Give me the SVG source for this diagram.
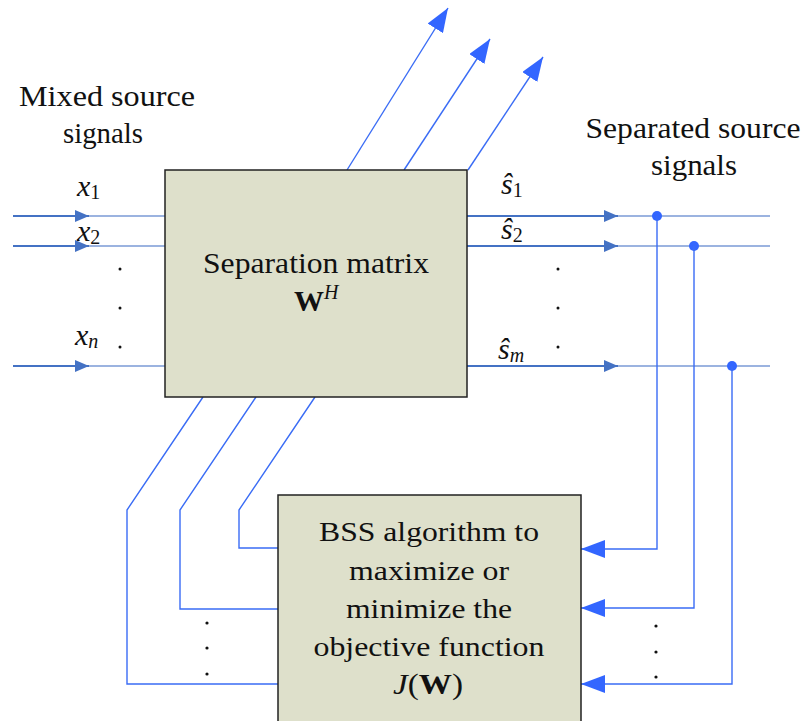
<svg xmlns="http://www.w3.org/2000/svg" width="805" height="721" viewBox="0 0 805 721">
<style>
text{font-family:"Liberation Serif","Times New Roman",serif;fill:#111;}
.sig{stroke:#4472c4;stroke-width:2;fill:none;}
.sigl{stroke:#9bb3e0;stroke-width:2;fill:none;}
.fb{stroke:#3a6cf5;stroke-width:1.4;fill:none;}
.box{fill:#dee0cb;stroke:#222;stroke-width:1.5;}
.dot{fill:#111;}
</style>
<defs>
<marker id="ah" markerUnits="userSpaceOnUse" markerWidth="14" markerHeight="12" refX="14" refY="6" orient="auto"><path d="M0,0 L14,6 L0,12 Z" fill="#4472c4"/></marker>
<marker id="ab" markerUnits="userSpaceOnUse" markerWidth="24" markerHeight="18" refX="24" refY="9" orient="auto"><path d="M0,0 L24,9 L0,18 Z" fill="#3366ff"/></marker>
</defs>

<g id="labels">
<text font-size="29" x="107" y="106" text-anchor="middle" textLength="176" lengthAdjust="spacingAndGlyphs">Mixed source</text>
<text font-size="29" x="103" y="143" text-anchor="middle" textLength="80" lengthAdjust="spacingAndGlyphs">signals</text>
<text font-size="29" x="693" y="138" text-anchor="middle" textLength="215" lengthAdjust="spacingAndGlyphs">Separated source</text>
<text font-size="29" x="694" y="175" text-anchor="middle" textLength="86" lengthAdjust="spacingAndGlyphs">signals</text>
<text font-size="30" x="77" y="196" font-style="italic">x<tspan font-style="normal" font-size="20" dy="3">1</tspan></text>
<text font-size="30" x="77" y="241" font-style="italic">x<tspan font-style="normal" font-size="20" dy="3">2</tspan></text>
<text font-size="30" x="75" y="345" font-style="italic">x<tspan font-size="20" dy="3">n</tspan></text>
<text font-size="30" x="501" y="194" font-style="italic">ŝ<tspan font-style="normal" font-size="20" dy="3">1</tspan></text>
<text font-size="30" x="501" y="239" font-style="italic">ŝ<tspan font-style="normal" font-size="20" dy="3">2</tspan></text>
<text font-size="30" x="498" y="359" font-style="italic">ŝ<tspan font-size="20" dy="3">m</tspan></text>
<circle class="dot" cx="120" cy="269" r="1.5"/>
<circle class="dot" cx="120" cy="308" r="1.5"/>
<circle class="dot" cx="120" cy="347" r="1.5"/>
<circle class="dot" cx="558" cy="269" r="1.5"/>
<circle class="dot" cx="558" cy="308" r="1.5"/>
<circle class="dot" cx="558" cy="347" r="1.5"/>
<circle class="dot" cx="207" cy="623" r="1.6"/>
<circle class="dot" cx="207" cy="648" r="1.6"/>
<circle class="dot" cx="207" cy="674" r="1.6"/>
<circle class="dot" cx="656" cy="626" r="1.6"/>
<circle class="dot" cx="656" cy="652" r="1.6"/>
<circle class="dot" cx="656" cy="677" r="1.6"/>
</g>

<g id="connectors">
<line class="sigl" x1="88" y1="216" x2="165" y2="216"/>
<line class="sigl" x1="88" y1="246" x2="165" y2="246"/>
<line class="sigl" x1="88" y1="366" x2="165" y2="366"/>
<line class="sig" x1="13" y1="216" x2="89" y2="216" marker-end="url(#ah)"/>
<line class="sig" x1="13" y1="246" x2="89" y2="246" marker-end="url(#ah)"/>
<line class="sig" x1="13" y1="366" x2="89" y2="366" marker-end="url(#ah)"/>
<line class="sigl" x1="617" y1="216" x2="770" y2="216"/>
<line class="sigl" x1="617" y1="246" x2="770" y2="246"/>
<line class="sigl" x1="617" y1="366" x2="770" y2="366"/>
<line class="sig" x1="467" y1="216" x2="618" y2="216" marker-end="url(#ah)"/>
<line class="sig" x1="467" y1="246" x2="618" y2="246" marker-end="url(#ah)"/>
<line class="sig" x1="467" y1="366" x2="618" y2="366" marker-end="url(#ah)"/>
<circle cx="657" cy="216" r="5" fill="#3366ff"/>
<circle cx="694" cy="246" r="5" fill="#3366ff"/>
<circle cx="732" cy="366" r="5" fill="#3366ff"/>
<polyline class="fb" points="657,216 657,549 581,549" marker-end="url(#ab)"/>
<polyline class="fb" points="694,246 694,608 581,608" marker-end="url(#ab)"/>
<polyline class="fb" points="732,366 732,684 581,684" marker-end="url(#ab)"/>
<line class="fb" x1="347" y1="170" x2="448" y2="8" marker-end="url(#ab)"/>
<line class="fb" x1="404" y1="170" x2="490" y2="39" marker-end="url(#ab)"/>
<line class="fb" x1="468" y1="170" x2="543" y2="57" marker-end="url(#ab)"/>
<polyline class="fb" points="203,397 127,510 127,684 278,684"/>
<polyline class="fb" points="256,397 180,510 180,609 278,609"/>
<polyline class="fb" points="315,397 239,510 239,548 278,548"/>
</g>

<g id="separation">
<rect class="box" x="165" y="170" width="302" height="227"/>
<text font-size="29" x="316" y="273" text-anchor="middle" textLength="226" lengthAdjust="spacingAndGlyphs">Separation matrix</text>
<text font-size="30" x="294" y="311" font-weight="bold">W<tspan font-weight="normal" font-style="italic" font-size="20" dy="-12">H</tspan></text>
</g>

<g id="bss">
<rect class="box" x="278" y="495" width="303" height="240"/>
<text font-size="28" x="429" y="541" text-anchor="middle" textLength="220" lengthAdjust="spacingAndGlyphs">BSS algorithm to</text>
<text font-size="28" x="429" y="580" text-anchor="middle" textLength="160" lengthAdjust="spacingAndGlyphs">maximize or</text>
<text font-size="28" x="429" y="618" text-anchor="middle" textLength="166" lengthAdjust="spacingAndGlyphs">minimize the</text>
<text font-size="28" x="429" y="656" text-anchor="middle" textLength="231" lengthAdjust="spacingAndGlyphs">objective function</text>
<text font-size="29" x="428" y="694" text-anchor="middle" textLength="70" lengthAdjust="spacingAndGlyphs"><tspan font-style="italic">J</tspan>(<tspan font-weight="bold">W</tspan>)</text>
</g>
</svg>
